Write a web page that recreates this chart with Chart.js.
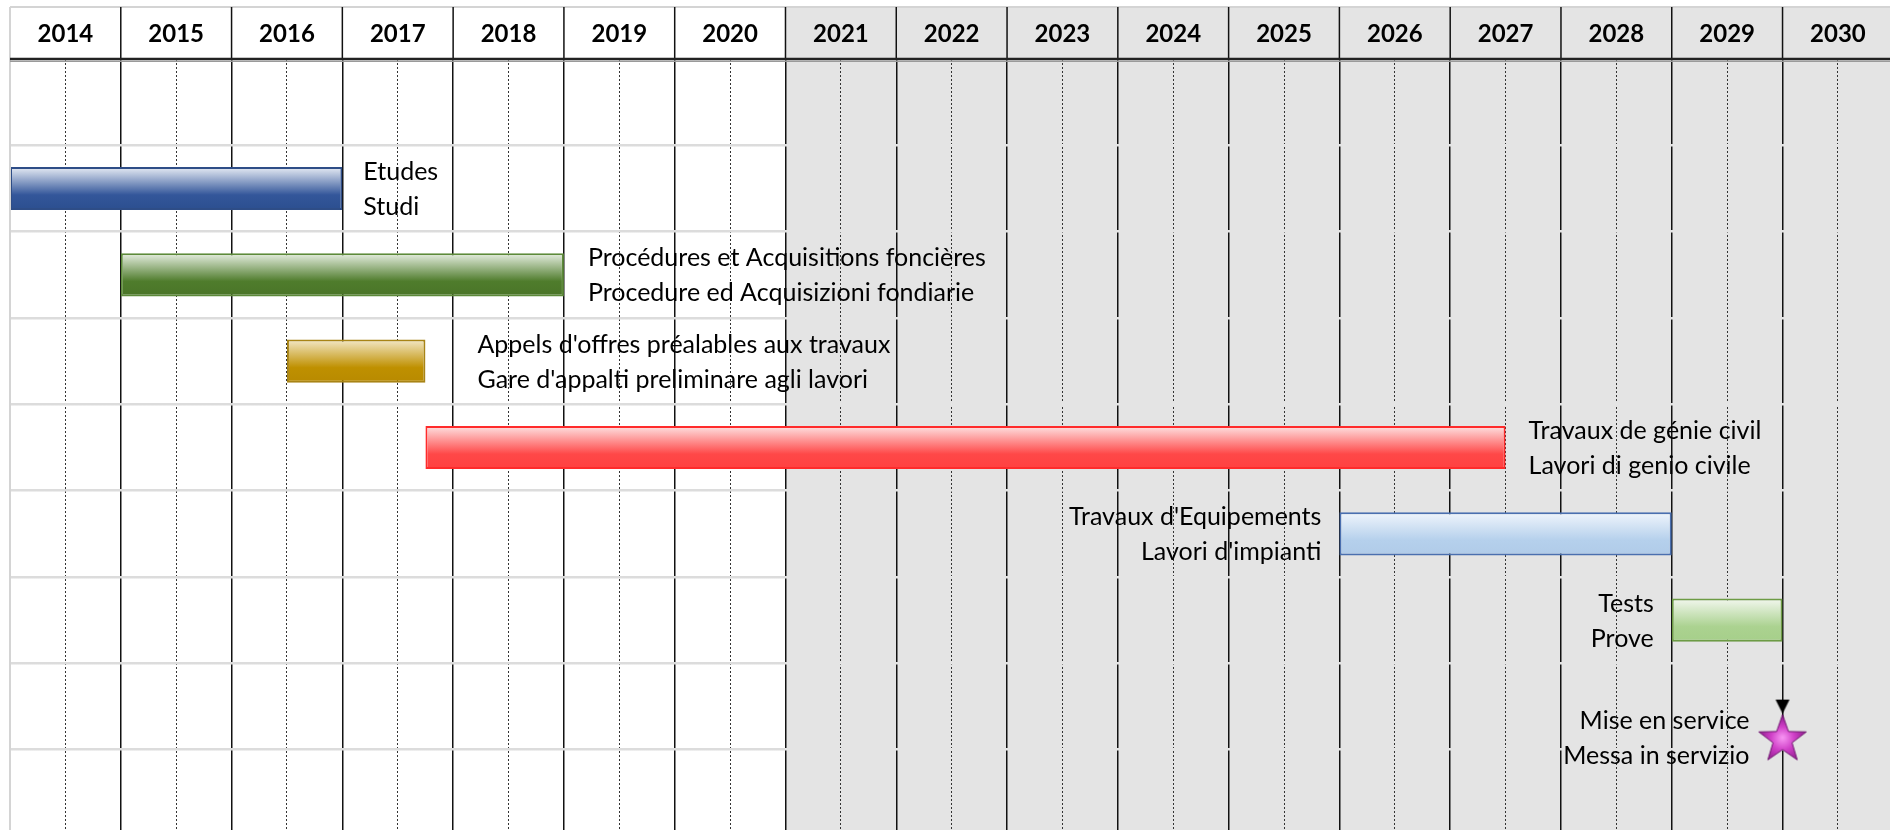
<!DOCTYPE html>
<html>
<head>
<meta charset="utf-8">
<title>Planning 2014-2030</title>
<script src="https://cdn.jsdelivr.net/npm/chart.js@4.4.1/dist/chart.umd.min.js"></script>
<style>
  html, body { margin: 0; padding: 0; background: #fff; }
  #wrap { width: 1890px; height: 830px; position: relative; }
</style>
</head>
<body>
<div id="wrap"><canvas id="gantt"></canvas></div>
<script>
// --- data ---
const firstYear = 2014;
const yearLabels = ['2014', '2015', '2016', '2017', '2018', '2019', '2020', '2021', '2022',
  '2023', '2024', '2025', '2026', '2027', '2028', '2029', '2030'];

const taskFr = ['Etudes', 'Procédures et Acquisitions foncières', "Appels d'offres préalables aux travaux",
  'Travaux de génie civil', "Travaux d'Equipements", 'Tests'];
const taskIt = ['Studi', 'Procedure ed Acquisizioni fondiarie', "Gare d'appalti preliminare agli lavori",
  'Lavori di genio civile', "Lavori d'impianti", 'Prove'];
const taskStart = [2014, 2015, 2016.5, 2017.75, 2026, 2029];
const taskEnd = [2017, 2019, 2017.75, 2027.5, 2029, 2030];
const taskRow = [1, 2, 3, 4, 5, 6];

const milestoneFr = ['Mise en service'];
const milestoneIt = ['Messa in servizio'];
const milestoneYear = [2030];
const milestoneRow = [7];

const shadeFromYear = 2021;

// --- styles ---
const palette = [
  { top: '#e8edf5', base: '#33569a', bottom: '#2c4f8f', border: '#2e4d87' },
  { top: '#e7efe2', base: '#4f7c2c', bottom: '#4a7528', border: '#5d8a3a' },
  { top: '#f3e8c8', base: '#bf9000', bottom: '#b88a00', border: '#a88416' },
  { top: '#fde3e3', base: '#ff4848', bottom: '#ff4040', border: '#ff2b2b' },
  { top: '#f0f5fc', base: '#b5d0ec', bottom: '#b0cbe8', border: '#4a6faf' },
  { top: '#f2f7ee', base: '#abd290', bottom: '#a6cf8a', border: '#6d9b45' }
];
const labelSide = ['right', 'right', 'right', 'right', 'left', 'left'];
const labelGap = [21, 24, 52, 23, 18, 18];
const MILESTONE_DROP = 0.36;   // star sits low in its row
const rowCount = 8.93;          // visible rows (last one cut by the frame)
const xMax = firstYear + 16.97; // 2030 column cut by the frame
const shadeColor = '#e4e4e4';
const rowLineColor = '#dcdcdc';

function barFill(ctx) {
  const p = palette[ctx.dataIndex] || palette[0];
  const chart = ctx.chart;
  const y = chart.scales.y;
  if (!ctx.raw || !y || !chart.chartArea) return p.base;
  const yc = y.getPixelForValue(ctx.raw.y);
  const half = Math.abs(y.getPixelForValue(ctx.raw.y + 0.25) - yc);
  const g = chart.ctx.createLinearGradient(0, yc - half, 0, yc + half);
  g.addColorStop(0, p.top);
  g.addColorStop(0.65, p.base);
  g.addColorStop(1, p.bottom);
  return g;
}

// row rules fade into the shaded (future) part
function rowLine(c) {
  const ch = c.chart;
  const area = ch.chartArea;
  if (!area || !ch.scales.x) return rowLineColor;
  const sx = ch.scales.x.getPixelForValue(shadeFromYear);
  const f = Math.min(Math.max((sx - area.left) / (area.right - area.left), 0), 1);
  const g = ch.ctx.createLinearGradient(area.left, 0, area.right, 0);
  g.addColorStop(0, rowLineColor);
  g.addColorStop(f, rowLineColor);
  g.addColorStop(f, shadeColor);
  g.addColorStop(1, shadeColor);
  return g;
}

function makeStar() {
  const c = document.createElement('canvas');
  c.width = 64; c.height = 100;
  const g = c.getContext('2d');
  const cx = 32, cy = 50, R = 25, r = 10;
  // little arrow on top of the milestone
  g.fillStyle = '#000';
  g.beginPath();
  g.moveTo(cx - 7, cy - 38); g.lineTo(cx + 7, cy - 38); g.lineTo(cx, cy - 24);
  g.closePath(); g.fill();
  g.beginPath();
  for (let i = 0; i < 10; i++) {
    const a = -Math.PI / 2 + i * Math.PI / 5;
    const rr = i % 2 ? r : R;
    g.lineTo(cx + rr * Math.cos(a), cy + 2 + rr * Math.sin(a));
  }
  g.closePath();
  const grad = g.createRadialGradient(cx, cy, 1, cx, cy + 2, R);
  grad.addColorStop(0, '#f590f0');
  grad.addColorStop(0.45, '#d040c8');
  grad.addColorStop(1, '#8c1a8a');
  g.fillStyle = grad;
  g.fill();
  g.strokeStyle = '#6e136e';
  g.lineWidth = 1;
  g.stroke();
  return c;
}

const ganttDecor = {
  id: 'ganttDecor',
  beforeDraw(chart) {
    const { ctx, scales: { x, xm } } = chart;
    ctx.save();
    ctx.fillStyle = '#fff';
    ctx.fillRect(0, 0, chart.width, chart.height);
    const sx = x.getPixelForValue(shadeFromYear);
    ctx.fillStyle = shadeColor;
    ctx.fillRect(sx, xm.top, chart.width - sx, chart.height - xm.top);
    ctx.restore();
  },
  afterDraw(chart) {
    const { ctx, chartArea, scales: { x, xm } } = chart;
    const x0 = x.getPixelForValue(firstYear);
    ctx.save();
    // header frame
    ctx.strokeStyle = '#d4d4d4';
    ctx.lineWidth = 2;
    ctx.beginPath();
    ctx.moveTo(x0, xm.top);
    ctx.lineTo(chart.width, xm.top);
    ctx.moveTo(x0, xm.top);
    ctx.lineTo(x0, chart.height);
    ctx.stroke();
    ctx.strokeStyle = '#111';
    ctx.lineWidth = 1.5;
    x.ticks.forEach((t, i) => {
      if (i === 0) return;
      const px = x.getPixelForValue(t.value);
      ctx.beginPath();
      ctx.moveTo(px, xm.top);
      ctx.lineTo(px, xm.bottom);
      ctx.stroke();
    });
    // double rule under the header
    ctx.strokeStyle = '#222';
    ctx.lineWidth = 2.5;
    ctx.beginPath();
    ctx.moveTo(chartArea.left, chartArea.top);
    ctx.lineTo(chartArea.right, chartArea.top);
    ctx.stroke();
    ctx.strokeStyle = '#9a9a9a';
    ctx.lineWidth = 1;
    ctx.beginPath();
    ctx.moveTo(chartArea.left, chartArea.top + 2.5);
    ctx.lineTo(chartArea.right, chartArea.top + 2.5);
    ctx.stroke();
    ctx.restore();
  },
  afterDatasetsDraw(chart) {
    const ctx = chart.ctx;
    ctx.save();
    ctx.font = '25px Lato';
    ctx.fillStyle = '#000';
    ctx.textBaseline = 'alphabetic';
    const put = (fr, it, side, xEdge, yc) => {
      ctx.textAlign = side === 'right' ? 'left' : 'right';
      ctx.fillText(fr, xEdge, yc - 8.5);
      ctx.fillText(it, xEdge, yc + 26.5);
    };
    chart.getDatasetMeta(0).data.forEach((bar, i) => {
      const lo = Math.min(bar.x, bar.base), hi = Math.max(bar.x, bar.base);
      const side = labelSide[i];
      const edge = side === 'right' ? hi + labelGap[i] : lo - labelGap[i];
      put(taskFr[i], taskIt[i], side, edge, bar.y);
    });
    chart.getDatasetMeta(1).data.forEach((pt, i) => {
      put(milestoneFr[i], milestoneIt[i], 'left', pt.x - 33, pt.y);
    });
    ctx.restore();
  }
};

new Chart(document.getElementById('gantt'), {
  type: 'bar',
  data: {
    datasets: [
      {
        label: 'Tâches',
        xAxisID: 'x',
        yAxisID: 'y',
        data: taskStart.map((s, i) => ({ x: [s, taskEnd[i]], y: taskRow[i] + 0.5 })),
        backgroundColor: barFill,
        borderColor: palette.map(p => p.border),
        borderWidth: 2,
        borderSkipped: false,
        categoryPercentage: 1,
        barPercentage: 0.5
      },
      {
        type: 'scatter',
        label: 'Jalon',
        xAxisID: 'x',
        yAxisID: 'y',
        data: milestoneYear.map((yr, i) => ({ x: yr, y: milestoneRow[i] + 0.5 + MILESTONE_DROP })),
        pointStyle: makeStar(),
        pointRadius: 20
      }
    ]
  },
  options: {
    indexAxis: 'y',
    responsive: true,
    maintainAspectRatio: false,
    animation: false,
    devicePixelRatio: 1,
    layout: { autoPadding: false, padding: { top: 7, left: 10, right: 0, bottom: 0 } },
    plugins: {
      legend: { display: false },
      tooltip: { enabled: false }
    },
    scales: {
      x: {
        type: 'linear',
        position: 'top',
        offset: false,
        min: firstYear,
        max: xMax,
        afterBuildTicks: s => { s.ticks = yearLabels.map((_, i) => ({ value: firstYear + i })); },
        ticks: { display: false },
        grid: {
          offset: false,
          drawTicks: false,
          lineWidth: 1.5,
          color: c => (c.tick && c.tick.value === firstYear ? '#d4d4d4' : '#111')
        },
        border: { display: false }
      },
      xm: {
        type: 'linear',
        position: 'top',
        offset: false,
        min: firstYear,
        max: xMax,
        afterBuildTicks: s => { s.ticks = yearLabels.map((_, i) => ({ value: firstYear + i + 0.5 })); },
        afterFit: s => { s.height = 52; },
        ticks: {
          autoSkip: false,
          maxRotation: 0,
          padding: 10,
          color: '#000',
          font: { family: 'Lato', weight: 'bold', size: 24 },
          callback: (v, i) => yearLabels[i]
        },
        grid: { offset: false, drawTicks: false, lineWidth: 1, color: '#333' },
        border: { display: false, dash: [2, 2] }
      },
      y: {
        type: 'linear',
        reverse: true,
        offset: false,
        min: 0,
        max: rowCount,
        ticks: { display: false, stepSize: 1, includeBounds: false },
        grid: { offset: false, drawTicks: false, lineWidth: 2.5, color: rowLine },
        border: { display: false }
      }
    }
  },
  plugins: [ganttDecor]
});
</script>
</body>
</html>
